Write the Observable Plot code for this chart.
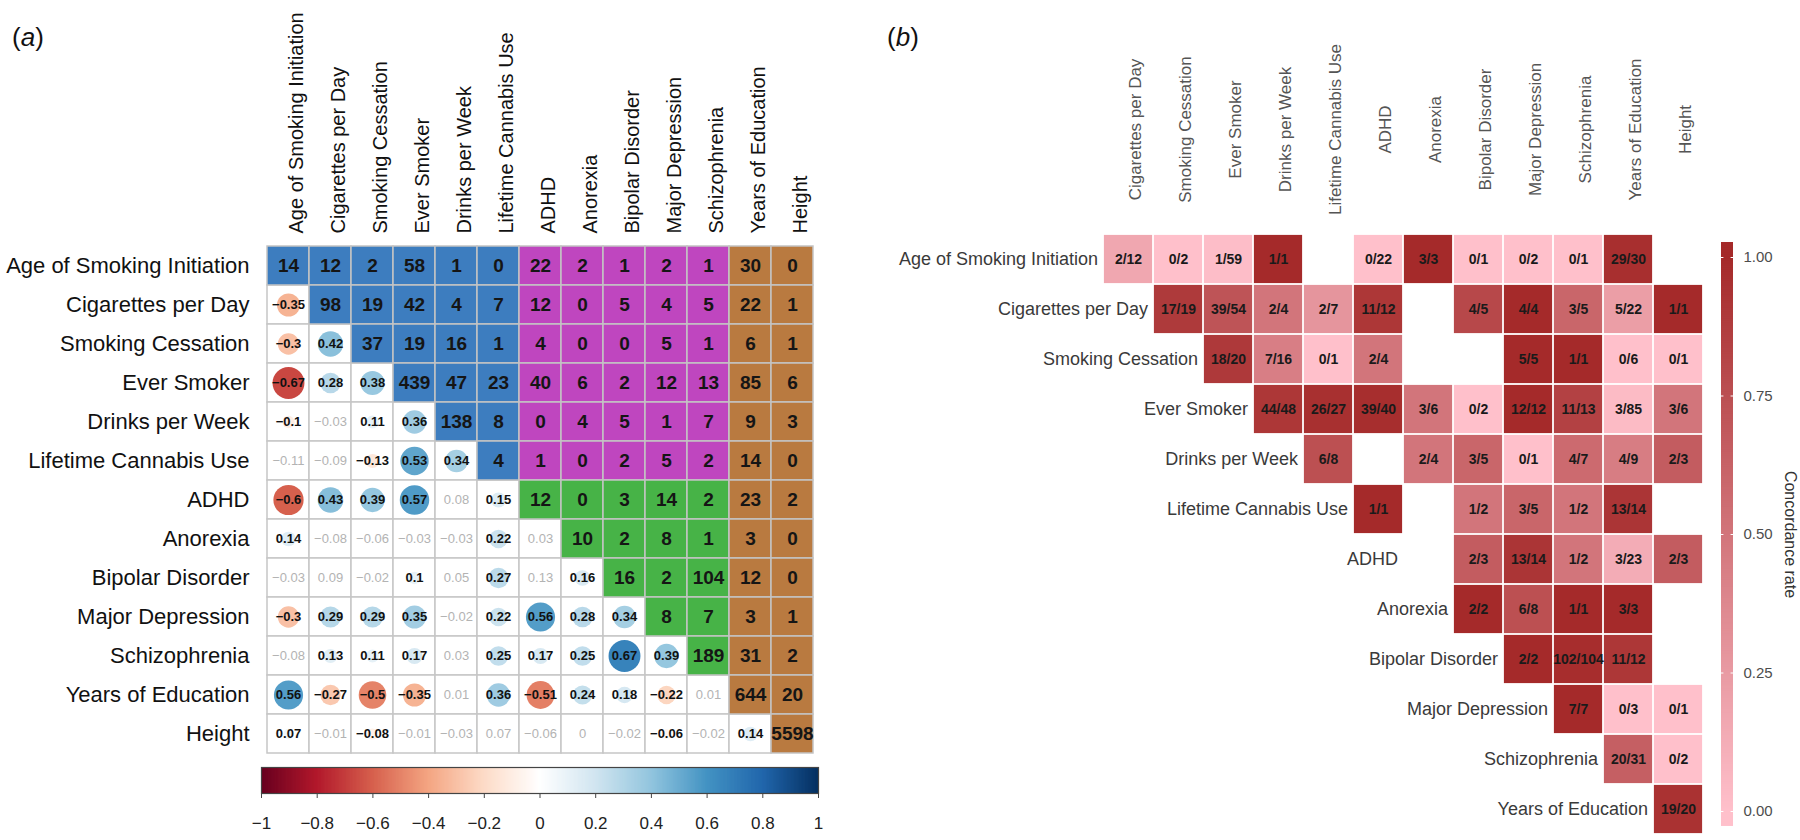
<!DOCTYPE html>
<html><head><meta charset="utf-8">
<script src="https://cdn.jsdelivr.net/npm/d3@7"></script>
<script src="https://cdn.jsdelivr.net/npm/@observablehq/plot@0.6"></script>
<style>
html,body{margin:0;padding:0;background:#fff;}
#root{position:relative;width:1800px;height:840px;overflow:hidden;font-family:"Liberation Sans",Arial,sans-serif;background:#fff;}
.abs{position:absolute;}
.tag{position:absolute;font-size:26px;line-height:30px;color:#111;font-family:"Liberation Sans",Arial,sans-serif;}
</style></head><body><div id="root"></div>
<script>
// ---------- data ----------
const traits = ["Age of Smoking Initiation","Cigarettes per Day","Smoking Cessation","Ever Smoker","Drinks per Week","Lifetime Cannabis Use","ADHD","Anorexia","Bipolar Disorder","Major Depression","Schizophrenia","Years of Education","Height"];

// upper triangle incl. diagonal: row i starts at column i
const counts = [
  [14,12,2,58,1,0,22,2,1,2,1,30,0],
  [98,19,42,4,7,12,0,5,4,5,22,1],
  [37,19,16,1,4,0,0,5,1,6,1],
  [439,47,23,40,6,2,12,13,85,6],
  [138,8,0,4,5,1,7,9,3],
  [4,1,0,2,5,2,14,0],
  [12,0,3,14,2,23,2],
  [10,2,8,1,3,0],
  [16,2,104,12,0],
  [8,7,3,1],
  [189,31,2],
  [644,20],
  [5598]
];

// lower triangle: row i has columns 0..i-1
const corr = [
  [],
  [-0.35],
  [-0.3,0.42],
  [-0.67,0.28,0.38],
  [-0.1,-0.03,0.11,0.36],
  [-0.11,-0.09,-0.13,0.53,0.34],
  [-0.6,0.43,0.39,0.57,0.08,0.15],
  [0.14,-0.08,-0.06,-0.03,-0.03,0.22,0.03],
  [-0.03,0.09,-0.02,0.1,0.05,0.27,0.13,0.16],
  [-0.3,0.29,0.29,0.35,-0.02,0.22,0.56,0.28,0.34],
  [-0.08,0.13,0.11,0.17,0.03,0.25,0.17,0.25,0.67,0.39],
  [0.56,-0.27,-0.5,-0.35,0.01,0.36,-0.51,0.24,0.18,-0.22,0.01],
  [0.07,-0.01,-0.08,-0.01,-0.03,0.07,-0.06,0,-0.02,-0.06,-0.02,0.14]
];
// 1 = significant (bold black with circle), 0 = not significant (grey)
const signif = [
  [],
  [1],
  [1,1],
  [1,1,1],
  [1,0,1,1],
  [0,0,1,1,1],
  [1,1,1,1,0,1],
  [1,0,0,0,0,1,0],
  [0,0,0,1,0,1,0,1],
  [1,1,1,1,0,1,1,1,1],
  [0,1,1,1,0,1,1,1,1,1],
  [1,1,1,1,0,1,1,1,1,1,0],
  [1,0,1,0,0,0,0,0,0,1,0,1]
];
const corrTicks = [-1,-0.8,-0.6,-0.4,-0.2,0,0.2,0.4,0.6,0.8,1];
const corrColors = ["#67001F","#B2182B","#D6604D","#F4A582","#FDDBC7","#FFFFFF","#D1E5F0","#92C5DE","#4393C3","#2166AC","#053061"];

// panel b
const concCols = traits.slice(1);
const concRows = traits.slice(0,12);
// row i starts at column i of concCols; null = no pair
const concordance = [
  ["2/12","0/2","1/59","1/1",null,"0/22","3/3","0/1","0/2","0/1","29/30",null],
  ["17/19","39/54","2/4","2/7","11/12",null,"4/5","4/4","3/5","5/22","1/1"],
  ["18/20","7/16","0/1","2/4",null,null,"5/5","1/1","0/6","0/1"],
  ["44/48","26/27","39/40","3/6","0/2","12/12","11/13","3/85","3/6"],
  ["6/8",null,"2/4","3/5","0/1","4/7","4/9","2/3"],
  ["1/1",null,"1/2","3/5","1/2","13/14",null],
  [null,"2/3","13/14","1/2","3/23","2/3"],
  ["2/2","6/8","1/1","3/3",null],
  ["2/2","102/104","11/12",null],
  ["7/7","0/3","0/1"],
  ["20/31","0/2"],
  ["19/20"]
];
const concTicks = [0,0.25,0.5,0.75,1];

// ---------- derived tables ----------
const groupColors = {smk:"#3d7dbf", sub:"#bf46bf", psy:"#47b347", edu:"#b97a40"};
function groupOf(i,j){ if (j>=11) return "edu"; if (j>=6) return i<=5 ? "sub" : "psy"; return "smk"; }
const upper = [];
counts.forEach((row,i)=>row.forEach((n,k)=>{const j=i+k; upper.push({row:traits[i], col:traits[j], n, group:groupOf(i,j)});}));
const lower = [];
corr.forEach((row,i)=>row.forEach((r,j)=>lower.push({row:traits[i], col:traits[j], r, sig: signif[i][j]===1})));
const fmt = v => (v<0 ? "\u2212" : "") + String(Math.abs(v));

const conc = [];
concordance.forEach((row,i)=>row.forEach((s,k)=>{ if(!s) return; const [a,b]=s.split("/").map(Number); conc.push({row:concRows[i], col:concCols[i+k], label:s, rate:a/b}); }));

const FONT = '"Liberation Sans", Arial, sans-serif';
const root = document.getElementById("root");
function place(node, left, top){ const d=document.createElement("div"); d.className="abs"; d.style.left=left+"px"; d.style.top=top+"px"; d.appendChild(node); root.appendChild(d); }

const corrColor = {type:"linear", domain:corrTicks, range:corrColors, interpolate:"rgb"};

// ---------- panel a ----------
const pa = Plot.plot({
  width:880, height:840,
  marginLeft:261, marginRight:62, marginTop:240, marginBottom:82,
  x:{type:"band", domain:traits, padding:0, axis:null},
  y:{type:"band", domain:traits, padding:0, axis:null},
  color:corrColor,
  r:{type:"sqrt", domain:[0,1], range:[0,19.5]},
  style:{fontFamily:FONT, background:"transparent", overflow:"visible"},
  marks:[
    Plot.cell(lower, {x:"col", y:"row", fill:"white", stroke:"#c6c6c6", strokeWidth:1.5}),
    ...Object.keys(groupColors).map(g => Plot.cell(upper.filter(d=>d.group===g), {x:"col", y:"row", fill:groupColors[g], stroke:"#c4c4c4", strokeWidth:1.5})),
    Plot.dot(lower.filter(d=>d.sig), {x:"col", y:"row", r:d=>Math.abs(d.r), fill:"r"}),
    Plot.text(lower.filter(d=>d.sig), {x:"col", y:"row", text:d=>fmt(d.r), fontSize:13, fontWeight:"bold", fill:"#111"}),
    Plot.text(lower.filter(d=>!d.sig), {x:"col", y:"row", text:d=>fmt(d.r), fontSize:13, fill:"#b3b3b3"}),
    Plot.text(upper, {x:"col", y:"row", text:d=>String(d.n), fontSize:19, fontWeight:"bold", fill:"#151515"}),
    Plot.text(traits, {y:d=>d, frameAnchor:"left", dx:-12, textAnchor:"end", fontSize:22, fill:"#111"}),
    Plot.text(traits, {x:d=>d, frameAnchor:"top", dy:-7, rotate:-90, textAnchor:"start", fontSize:20, fill:"#111"})
  ]
});
place(pa, 0, 0);

// colour bar a
const stepA = 0.005;
const stepsA = d3.range(-1, 1, stepA);
const ca = Plot.plot({
  width:880, height:80,
  marginLeft:261, marginRight:62, marginTop:7, marginBottom:47,
  x:{domain:[-1,1], axis:null},
  y:{domain:[0,1], axis:null},
  color:corrColor,
  style:{fontFamily:FONT, background:"transparent", overflow:"visible", color:"#333"},
  marks:[
    Plot.rect(stepsA, {x1:d=>d, x2:d=>Math.min(1, d+stepA*1.6), y1:0, y2:1, fill:d=>d+stepA/2}),
    Plot.frame({stroke:"#444", strokeWidth:1.2}),
    Plot.axisX({ticks:corrTicks, tickFormat:fmt, tickSize:5, tickPadding:18, fontSize:17, anchor:"bottom", stroke:"#444", fill:"#222"})
  ]
});
place(ca, 0, 760);

// ---------- panel b ----------
const concColor = {type:"linear", domain:[0,1], range:["#ffc0cb","#a52a2a"], interpolate:"rgb", clamp:true};
const pb = Plot.plot({
  width:920, height:840,
  marginLeft:217, marginRight:92, marginTop:228, marginBottom:1,
  x:{type:"band", domain:concCols, padding:0, axis:null},
  y:{type:"band", domain:concRows, padding:0, axis:null},
  color:concColor,
  style:{fontFamily:FONT, background:"transparent", overflow:"visible"},
  marks:[
    Plot.cell(conc, {x:"col", y:"row", fill:"rate", inset:0.9}),
    Plot.text(conc, {x:"col", y:"row", text:"label", fontSize:14, fontWeight:"bold", fill:"#1a1a1a"}),
    Plot.text(concRows, {x:(d,i)=>concCols[i], y:d=>d, dx:-30.5, textAnchor:"end", fontSize:18, fill:"#3a3a3a"}),
    Plot.text(concCols, {x:d=>d, frameAnchor:"top", dy:-99, rotate:-90, textAnchor:"middle", fontSize:17, fill:"#555"})
  ]
});
place(pb, 880, 0);

// colour bar b
const stepB = 0.004;
const stepsB = d3.range(-0.027, 1.027, stepB);
const cb = Plot.plot({
  width:100, height:840,
  marginLeft:21, marginRight:67, marginTop:257, marginBottom:29,
  x:{domain:[0,1], axis:null},
  y:{domain:[0,1], axis:null},
  color:concColor,
  style:{fontFamily:FONT, background:"transparent", overflow:"visible"},
  marks:[
    Plot.rect(stepsB, {x1:()=>0, x2:()=>1, y1:d=>d, y2:d=>Math.min(1.027, d+stepB*1.6), fill:d=>d+stepB/2}),
    Plot.ruleY(concTicks, {y:d=>d, x1:()=>0, x2:()=>0.2, stroke:"white", strokeWidth:1}),
    Plot.ruleY(concTicks, {y:d=>d, x1:()=>0.8, x2:()=>1, stroke:"white", strokeWidth:1}),
    Plot.text(concTicks, {y:d=>d, x:()=>1, dx:10, textAnchor:"start", text:d=>d.toFixed(2), fontSize:15, fill:"#4d4d4d"}),
    Plot.text(["Concordance rate"], {y:()=>0.5, x:()=>1, dx:57, rotate:90, textAnchor:"middle", fontSize:16, fill:"#333"})
  ]
});
place(cb, 1700, 0);

// panel tags
const ta = document.createElement("div"); ta.className="tag"; ta.style.left="12px"; ta.style.top="22px"; ta.innerHTML="(<i>a</i>)"; root.appendChild(ta);
const tb = document.createElement("div"); tb.className="tag"; tb.style.left="887px"; tb.style.top="22px"; tb.innerHTML="(<i>b</i>)"; root.appendChild(tb);
</script>
</body></html>
